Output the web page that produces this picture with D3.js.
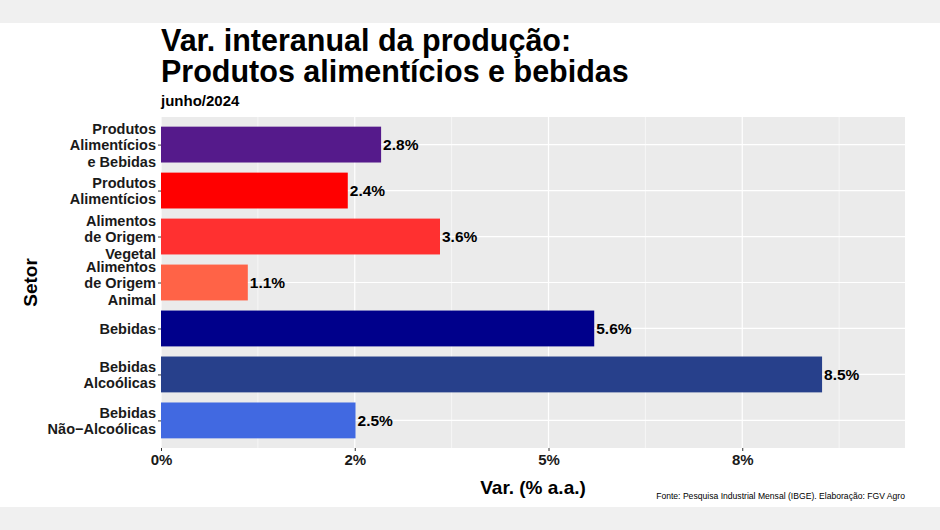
<html>
<head>
<meta charset="utf-8">
<title>var interanual</title>
<style>
  body { margin: 0; background: #fff; }
  svg text { font-family: "Liberation Sans", Arial, sans-serif; font-weight: bold; fill: #000; }
  .ytick text { fill: #1a1a1a; }
  .xtick text { fill: #1a1a1a; }
</style>
<script src="https://d3js.org/d3.v7.min.js"></script>
</head>
<body>
<svg id="chart"></svg>
<script>
var width = 940, height = 530;

// data
var setores = [
  "Produtos\nAlimentícios\ne Bebidas",
  "Produtos\nAlimentícios",
  "Alimentos\nde Origem\nVegetal",
  "Alimentos\nde Origem\nAnimal",
  "Bebidas",
  "Bebidas\nAlcoólicas",
  "Bebidas\nNão−Alcoólicas"
];
var variacao = [2.84, 2.41, 3.60, 1.12, 5.59, 8.53, 2.51];
var cores = ["#551A8B", "#FF0000", "#FF3030", "#FF6347", "#00008B", "#27408B", "#4169E1"];
var xTicks = [0, 2.5, 5, 7.5];
var xTickLabels = ["0%", "2%", "5%", "8%"];
var xMinor = [1.25, 3.75, 6.25, 8.75];

var data = setores.map(function(s, i) { return {setor: s, v: variacao[i], cor: cores[i]}; });

var panel = {left: 161, right: 905, top: 117, bottom: 448};

var svg = d3.select("#chart").attr("width", width).attr("height", height);

// outer gray bands
svg.append("rect").attr("x", 0).attr("y", 0).attr("width", width).attr("height", 23).attr("fill", "#F0F0F0");
svg.append("rect").attr("x", 0).attr("y", 507).attr("width", width).attr("height", 23).attr("fill", "#F0F0F0");

var x = d3.scaleLinear().domain([0, 9.6]).range([panel.left, panel.right]);
var y = d3.scalePoint().domain(setores).range([panel.top, panel.bottom]).padding(0.6);
var barH = y.step() * 0.78;

// panel background
svg.append("rect")
  .attr("x", panel.left).attr("y", panel.top)
  .attr("width", panel.right - panel.left).attr("height", panel.bottom - panel.top)
  .attr("fill", "#EBEBEB");

// grid
svg.append("g").selectAll("line").data(xMinor).enter().append("line")
  .attr("x1", function(d) { return x(d); }).attr("x2", function(d) { return x(d); })
  .attr("y1", panel.top).attr("y2", panel.bottom)
  .attr("stroke", "#fff").attr("stroke-width", 0.6);
svg.append("g").selectAll("line").data(xTicks).enter().append("line")
  .attr("x1", function(d) { return x(d); }).attr("x2", function(d) { return x(d); })
  .attr("y1", panel.top).attr("y2", panel.bottom)
  .attr("stroke", "#fff").attr("stroke-width", 1.2);
svg.append("g").selectAll("line").data(setores).enter().append("line")
  .attr("x1", panel.left).attr("x2", panel.right)
  .attr("y1", function(d) { return y(d); }).attr("y2", function(d) { return y(d); })
  .attr("stroke", "#fff").attr("stroke-width", 1.2);

// bars
svg.append("g").selectAll("rect").data(data).enter().append("rect")
  .attr("x", x(0))
  .attr("y", function(d) { return y(d.setor) - barH / 2; })
  .attr("width", function(d) { return x(d.v) - x(0); })
  .attr("height", barH)
  .attr("fill", function(d) { return d.cor; });

// value labels
svg.append("g").selectAll("text").data(data).enter().append("text")
  .attr("x", function(d) { return x(d.v) + 2; })
  .attr("y", function(d) { return y(d.setor); })
  .attr("dy", "0.36em")
  .attr("font-size", "15.5px")
  .attr("fill", "#1a1a1a")
  .text(function(d) { return d3.format(".1f")(d.v) + "%"; });

// x axis
var xAxis = d3.axisBottom(x).tickValues(xTicks)
  .tickFormat(function(d, i) { return xTickLabels[i]; })
  .tickSize(3).tickPadding(3);
var gx = svg.append("g").attr("class", "xtick")
  .attr("transform", "translate(0," + panel.bottom + ")")
  .call(xAxis);
gx.select(".domain").remove();
gx.selectAll("line").attr("stroke", "#333");
gx.selectAll("text").attr("font-size", "15px").attr("font-family", null);

// y axis
var yAxis = d3.axisLeft(y).tickSize(3).tickPadding(3).tickFormat("");
var gy = svg.append("g").attr("class", "ytick")
  .attr("transform", "translate(" + panel.left + ",0)")
  .call(yAxis);
gy.select(".domain").remove();
gy.selectAll("line").attr("stroke", "#333");
gy.selectAll(".tick").each(function(d) {
  var lines = d.split("\n");
  var t = d3.select(this).select("text")
    .attr("font-size", "14.5px").attr("font-family", null)
    .attr("x", -5).attr("dy", null);
  var lh = 16.3;
  var y0 = -(lines.length - 1) * lh / 2;
  lines.forEach(function(l, i) {
    t.append("tspan").attr("x", -5).attr("y", y0 + i * lh).attr("dy", "0.36em").text(l);
  });
});

// titles
svg.append("text").attr("x", panel.left).attr("y", 51).attr("font-size", "30.5px")
  .text("Var. interanual da produção:");
svg.append("text").attr("x", panel.left).attr("y", 82).attr("font-size", "30.5px")
  .text("Produtos alimentícios e bebidas");
svg.append("text").attr("x", panel.left).attr("y", 106).attr("font-size", "15px")
  .text("junho/2024");

// axis titles
svg.append("text")
  .attr("x", (panel.left + panel.right) / 2).attr("y", 494)
  .attr("text-anchor", "middle").attr("font-size", "19px")
  .text("Var. (% a.a.)");
svg.append("text")
  .attr("transform", "translate(37," + (panel.top + panel.bottom) / 2 + ") rotate(-90)")
  .attr("text-anchor", "middle").attr("font-size", "19px")
  .text("Setor");

// caption
svg.append("text")
  .attr("x", panel.right).attr("y", 499)
  .attr("text-anchor", "end").attr("font-size", "8.6px")
  .style("font-weight", "normal")
  .attr("fill", "#222")
  .text("Fonte: Pesquisa Industrial Mensal (IBGE). Elaboração: FGV Agro");
</script>
</body>
</html>
